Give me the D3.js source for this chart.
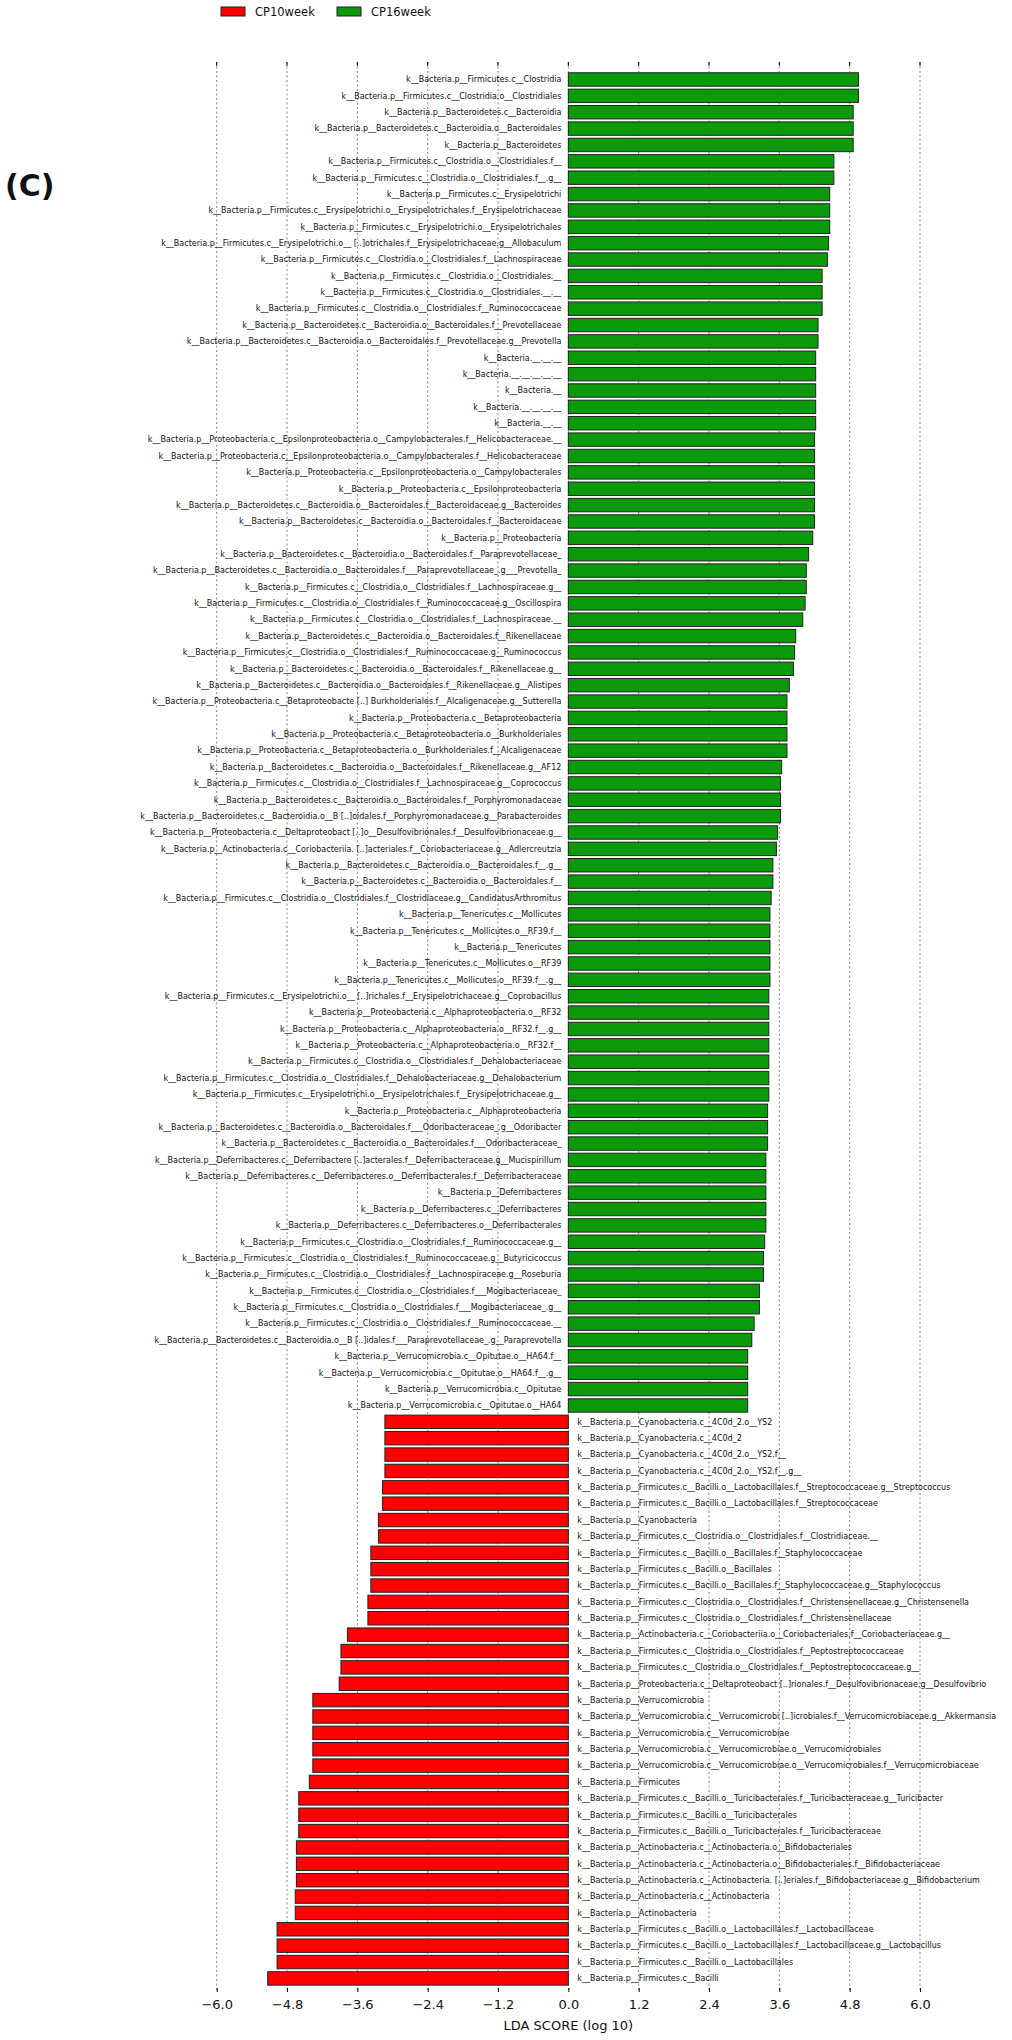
<!DOCTYPE html>
<html>
<head>
<meta charset="utf-8">
<script src="https://cdn.jsdelivr.net/npm/d3@7"></script>
<style>
  html, body { margin: 0; padding: 0; background: #fff; }
  svg { display: block; }
  text { font-family: "DejaVu Sans", sans-serif; fill: #111; }
</style>
</head>
<body>
<svg id="chart" width="1012" height="2040"></svg>
<script>
// ---- data ----
const greenLabels = [
  "k__Bacteria.p__Firmicutes.c__Clostridia",
  "k__Bacteria.p__Firmicutes.c__Clostridia.o__Clostridiales",
  "k__Bacteria.p__Bacteroidetes.c__Bacteroidia",
  "k__Bacteria.p__Bacteroidetes.c__Bacteroidia.o__Bacteroidales",
  "k__Bacteria.p__Bacteroidetes",
  "k__Bacteria.p__Firmicutes.c__Clostridia.o__Clostridiales.f__",
  "k__Bacteria.p__Firmicutes.c__Clostridia.o__Clostridiales.f__.g__",
  "k__Bacteria.p__Firmicutes.c__Erysipelotrichi",
  "k__Bacteria.p__Firmicutes.c__Erysipelotrichi.o__Erysipelotrichales.f__Erysipelotrichaceae",
  "k__Bacteria.p__Firmicutes.c__Erysipelotrichi.o__Erysipelotrichales",
  "k__Bacteria.p__Firmicutes.c__Erysipelotrichi.o__ [..]otrichales.f__Erysipelotrichaceae.g__Allobaculum",
  "k__Bacteria.p__Firmicutes.c__Clostridia.o__Clostridiales.f__Lachnospiraceae",
  "k__Bacteria.p__Firmicutes.c__Clostridia.o__Clostridiales.__",
  "k__Bacteria.p__Firmicutes.c__Clostridia.o__Clostridiales.__.__",
  "k__Bacteria.p__Firmicutes.c__Clostridia.o__Clostridiales.f__Ruminococcaceae",
  "k__Bacteria.p__Bacteroidetes.c__Bacteroidia.o__Bacteroidales.f__Prevotellaceae",
  "k__Bacteria.p__Bacteroidetes.c__Bacteroidia.o__Bacteroidales.f__Prevotellaceae.g__Prevotella",
  "k__Bacteria.__.__.__",
  "k__Bacteria.__.__.__.__.__",
  "k__Bacteria.__",
  "k__Bacteria.__.__.__.__",
  "k__Bacteria.__.__",
  "k__Bacteria.p__Proteobacteria.c__Epsilonproteobacteria.o__Campylobacterales.f__Helicobacteraceae.__",
  "k__Bacteria.p__Proteobacteria.c__Epsilonproteobacteria.o__Campylobacterales.f__Helicobacteraceae",
  "k__Bacteria.p__Proteobacteria.c__Epsilonproteobacteria.o__Campylobacterales",
  "k__Bacteria.p__Proteobacteria.c__Epsilonproteobacteria",
  "k__Bacteria.p__Bacteroidetes.c__Bacteroidia.o__Bacteroidales.f__Bacteroidaceae.g__Bacteroides",
  "k__Bacteria.p__Bacteroidetes.c__Bacteroidia.o__Bacteroidales.f__Bacteroidaceae",
  "k__Bacteria.p__Proteobacteria",
  "k__Bacteria.p__Bacteroidetes.c__Bacteroidia.o__Bacteroidales.f__Paraprevotellaceae_",
  "k__Bacteria.p__Bacteroidetes.c__Bacteroidia.o__Bacteroidales.f___Paraprevotellaceae_.g___Prevotella_",
  "k__Bacteria.p__Firmicutes.c__Clostridia.o__Clostridiales.f__Lachnospiraceae.g__",
  "k__Bacteria.p__Firmicutes.c__Clostridia.o__Clostridiales.f__Ruminococcaceae.g__Oscillospira",
  "k__Bacteria.p__Firmicutes.c__Clostridia.o__Clostridiales.f__Lachnospiraceae.__",
  "k__Bacteria.p__Bacteroidetes.c__Bacteroidia.o__Bacteroidales.f__Rikenellaceae",
  "k__Bacteria.p__Firmicutes.c__Clostridia.o__Clostridiales.f__Ruminococcaceae.g__Ruminococcus",
  "k__Bacteria.p__Bacteroidetes.c__Bacteroidia.o__Bacteroidales.f__Rikenellaceae.g__",
  "k__Bacteria.p__Bacteroidetes.c__Bacteroidia.o__Bacteroidales.f__Rikenellaceae.g__Alistipes",
  "k__Bacteria.p__Proteobacteria.c__Betaproteobacte [..] Burkholderiales.f__Alcaligenaceae.g__Sutterella",
  "k__Bacteria.p__Proteobacteria.c__Betaproteobacteria",
  "k__Bacteria.p__Proteobacteria.c__Betaproteobacteria.o__Burkholderiales",
  "k__Bacteria.p__Proteobacteria.c__Betaproteobacteria.o__Burkholderiales.f__Alcaligenaceae",
  "k__Bacteria.p__Bacteroidetes.c__Bacteroidia.o__Bacteroidales.f__Rikenellaceae.g__AF12",
  "k__Bacteria.p__Firmicutes.c__Clostridia.o__Clostridiales.f__Lachnospiraceae.g__Coprococcus",
  "k__Bacteria.p__Bacteroidetes.c__Bacteroidia.o__Bacteroidales.f__Porphyromonadaceae",
  "k__Bacteria.p__Bacteroidetes.c__Bacteroidia.o__B [..]oidales.f__Porphyromonadaceae.g__Parabacteroides",
  "k__Bacteria.p__Proteobacteria.c__Deltaproteobact [..]o__Desulfovibrionales.f__Desulfovibrionaceae.g__",
  "k__Bacteria.p__Actinobacteria.c__Coriobacteriia. [..]acteriales.f__Coriobacteriaceae.g__Adlercreutzia",
  "k__Bacteria.p__Bacteroidetes.c__Bacteroidia.o__Bacteroidales.f__.g__",
  "k__Bacteria.p__Bacteroidetes.c__Bacteroidia.o__Bacteroidales.f__",
  "k__Bacteria.p__Firmicutes.c__Clostridia.o__Clostridiales.f__Clostridiaceae.g__CandidatusArthromitus",
  "k__Bacteria.p__Tenericutes.c__Mollicutes",
  "k__Bacteria.p__Tenericutes.c__Mollicutes.o__RF39.f__",
  "k__Bacteria.p__Tenericutes",
  "k__Bacteria.p__Tenericutes.c__Mollicutes.o__RF39",
  "k__Bacteria.p__Tenericutes.c__Mollicutes.o__RF39.f__.g__",
  "k__Bacteria.p__Firmicutes.c__Erysipelotrichi.o__ [..]richales.f__Erysipelotrichaceae.g__Coprobacillus",
  "k__Bacteria.p__Proteobacteria.c__Alphaproteobacteria.o__RF32",
  "k__Bacteria.p__Proteobacteria.c__Alphaproteobacteria.o__RF32.f__.g__",
  "k__Bacteria.p__Proteobacteria.c__Alphaproteobacteria.o__RF32.f__",
  "k__Bacteria.p__Firmicutes.c__Clostridia.o__Clostridiales.f__Dehalobacteriaceae",
  "k__Bacteria.p__Firmicutes.c__Clostridia.o__Clostridiales.f__Dehalobacteriaceae.g__Dehalobacterium",
  "k__Bacteria.p__Firmicutes.c__Erysipelotrichi.o__Erysipelotrichales.f__Erysipelotrichaceae.g__",
  "k__Bacteria.p__Proteobacteria.c__Alphaproteobacteria",
  "k__Bacteria.p__Bacteroidetes.c__Bacteroidia.o__Bacteroidales.f___Odoribacteraceae_.g__Odoribacter",
  "k__Bacteria.p__Bacteroidetes.c__Bacteroidia.o__Bacteroidales.f___Odoribacteraceae_",
  "k__Bacteria.p__Deferribacteres.c__Deferribactere [..]acterales.f__Deferribacteraceae.g__Mucispirillum",
  "k__Bacteria.p__Deferribacteres.c__Deferribacteres.o__Deferribacterales.f__Deferribacteraceae",
  "k__Bacteria.p__Deferribacteres",
  "k__Bacteria.p__Deferribacteres.c__Deferribacteres",
  "k__Bacteria.p__Deferribacteres.c__Deferribacteres.o__Deferribacterales",
  "k__Bacteria.p__Firmicutes.c__Clostridia.o__Clostridiales.f__Ruminococcaceae.g__",
  "k__Bacteria.p__Firmicutes.c__Clostridia.o__Clostridiales.f__Ruminococcaceae.g__Butyricicoccus",
  "k__Bacteria.p__Firmicutes.c__Clostridia.o__Clostridiales.f__Lachnospiraceae.g__Roseburia",
  "k__Bacteria.p__Firmicutes.c__Clostridia.o__Clostridiales.f___Mogibacteriaceae_",
  "k__Bacteria.p__Firmicutes.c__Clostridia.o__Clostridiales.f___Mogibacteriaceae_.g__",
  "k__Bacteria.p__Firmicutes.c__Clostridia.o__Clostridiales.f__Ruminococcaceae.__",
  "k__Bacteria.p__Bacteroidetes.c__Bacteroidia.o__B [..]idales.f___Paraprevotellaceae_.g__Paraprevotella",
  "k__Bacteria.p__Verrucomicrobia.c__Opitutae.o__HA64.f__",
  "k__Bacteria.p__Verrucomicrobia.c__Opitutae.o__HA64.f__.g__",
  "k__Bacteria.p__Verrucomicrobia.c__Opitutae",
  "k__Bacteria.p__Verrucomicrobia.c__Opitutae.o__HA64"
];
const greenValues = [
  4.95, 4.95, 4.86, 4.86, 4.86, 4.53, 4.53, 4.46, 4.46, 4.46,
  4.44, 4.42, 4.33, 4.33, 4.33, 4.26, 4.26, 4.22, 4.22, 4.22,
  4.22, 4.22, 4.20, 4.20, 4.20, 4.20, 4.20, 4.20, 4.17, 4.10,
  4.06, 4.06, 4.04, 4.00, 3.88, 3.86, 3.84, 3.77, 3.73, 3.73,
  3.73, 3.73, 3.64, 3.62, 3.62, 3.62, 3.57, 3.55, 3.49, 3.49,
  3.46, 3.44, 3.44, 3.44, 3.44, 3.44, 3.42, 3.42, 3.42, 3.42,
  3.42, 3.42, 3.42, 3.40, 3.40, 3.40, 3.37, 3.37, 3.37, 3.37,
  3.37, 3.35, 3.33, 3.33, 3.26, 3.26, 3.17, 3.13, 3.06, 3.06,
  3.06, 3.06
];
const redLabels = [
  "k__Bacteria.p__Cyanobacteria.c__4C0d_2.o__YS2",
  "k__Bacteria.p__Cyanobacteria.c__4C0d_2",
  "k__Bacteria.p__Cyanobacteria.c__4C0d_2.o__YS2.f__",
  "k__Bacteria.p__Cyanobacteria.c__4C0d_2.o__YS2.f__.g__",
  "k__Bacteria.p__Firmicutes.c__Bacilli.o__Lactobacillales.f__Streptococcaceae.g__Streptococcus",
  "k__Bacteria.p__Firmicutes.c__Bacilli.o__Lactobacillales.f__Streptococcaceae",
  "k__Bacteria.p__Cyanobacteria",
  "k__Bacteria.p__Firmicutes.c__Clostridia.o__Clostridiales.f__Clostridiaceae.__",
  "k__Bacteria.p__Firmicutes.c__Bacilli.o__Bacillales.f__Staphylococcaceae",
  "k__Bacteria.p__Firmicutes.c__Bacilli.o__Bacillales",
  "k__Bacteria.p__Firmicutes.c__Bacilli.o__Bacillales.f__Staphylococcaceae.g__Staphylococcus",
  "k__Bacteria.p__Firmicutes.c__Clostridia.o__Clostridiales.f__Christensenellaceae.g__Christensenella",
  "k__Bacteria.p__Firmicutes.c__Clostridia.o__Clostridiales.f__Christensenellaceae",
  "k__Bacteria.p__Actinobacteria.c__Coriobacteriia.o__Coriobacteriales.f__Coriobacteriaceae.g__",
  "k__Bacteria.p__Firmicutes.c__Clostridia.o__Clostridiales.f__Peptostreptococcaceae",
  "k__Bacteria.p__Firmicutes.c__Clostridia.o__Clostridiales.f__Peptostreptococcaceae.g__",
  "k__Bacteria.p__Proteobacteria.c__Deltaproteobact [..]rionales.f__Desulfovibrionaceae.g__Desulfovibrio",
  "k__Bacteria.p__Verrucomicrobia",
  "k__Bacteria.p__Verrucomicrobia.c__Verrucomicrobi [..]icrobiales.f__Verrucomicrobiaceae.g__Akkermansia",
  "k__Bacteria.p__Verrucomicrobia.c__Verrucomicrobiae",
  "k__Bacteria.p__Verrucomicrobia.c__Verrucomicrobiae.o__Verrucomicrobiales",
  "k__Bacteria.p__Verrucomicrobia.c__Verrucomicrobiae.o__Verrucomicrobiales.f__Verrucomicrobiaceae",
  "k__Bacteria.p__Firmicutes",
  "k__Bacteria.p__Firmicutes.c__Bacilli.o__Turicibacterales.f__Turicibacteraceae.g__Turicibacter",
  "k__Bacteria.p__Firmicutes.c__Bacilli.o__Turicibacterales",
  "k__Bacteria.p__Firmicutes.c__Bacilli.o__Turicibacterales.f__Turicibacteraceae",
  "k__Bacteria.p__Actinobacteria.c__Actinobacteria.o__Bifidobacteriales",
  "k__Bacteria.p__Actinobacteria.c__Actinobacteria.o__Bifidobacteriales.f__Bifidobacteriaceae",
  "k__Bacteria.p__Actinobacteria.c__Actinobacteria. [..]eriales.f__Bifidobacteriaceae.g__Bifidobacterium",
  "k__Bacteria.p__Actinobacteria.c__Actinobacteria",
  "k__Bacteria.p__Actinobacteria",
  "k__Bacteria.p__Firmicutes.c__Bacilli.o__Lactobacillales.f__Lactobacillaceae",
  "k__Bacteria.p__Firmicutes.c__Bacilli.o__Lactobacillales.f__Lactobacillaceae.g__Lactobacillus",
  "k__Bacteria.p__Firmicutes.c__Bacilli.o__Lactobacillales",
  "k__Bacteria.p__Firmicutes.c__Bacilli"
];
const redValues = [
  -3.13, -3.13, -3.13, -3.13, -3.17, -3.17, -3.24, -3.24, -3.37, -3.37,
  -3.37, -3.42, -3.42, -3.77, -3.88, -3.88, -3.91, -4.36, -4.36, -4.36,
  -4.36, -4.36, -4.42, -4.60, -4.60, -4.60, -4.64, -4.64, -4.64, -4.66,
  -4.66, -4.97, -4.97, -4.97, -5.13
];
const tickValues = [-6.0, -4.8, -3.6, -2.4, -1.2, 0.0, 1.2, 2.4, 3.6, 4.8, 6.0];
const legendItems = ["CP10week", "CP16week"];
const groupColors = { "CP10week": "#ff0000", "CP16week": "#0a9a0a" };

// ---- build rows ----
const rows = [];
greenLabels.forEach((l, i) => rows.push({ label: l, value: greenValues[i], group: "CP16week" }));
redLabels.forEach((l, i) => rows.push({ label: l, value: redValues[i], group: "CP10week" }));

const svg = d3.select("#chart");
const plotTop = 62, plotBottom = 1992;
const x = d3.scaleLinear().domain([-6, 6]).range([216.7, 920]);
const y = d3.scaleBand()
  .domain(rows.map((d, i) => i))
  .range([71.3, 1986.6])
  .paddingInner(0.18)
  .paddingOuter(0.09);

// grid lines
svg.append("g").selectAll("line").data(tickValues).join("line")
  .attr("x1", d => x(d)).attr("x2", d => x(d))
  .attr("y1", plotTop).attr("y2", plotBottom)
  .attr("stroke", "#777").attr("stroke-width", 0.9)
  .attr("stroke-dasharray", "2,2.5");

// top ticks
svg.append("g").selectAll("line").data(tickValues).join("line")
  .attr("x1", d => x(d)).attr("x2", d => x(d))
  .attr("y1", plotTop).attr("y2", plotTop + 4)
  .attr("stroke", "#000").attr("stroke-width", 1);

// bars
svg.append("g").selectAll("rect").data(rows).join("rect")
  .attr("x", d => x(Math.min(0, d.value)))
  .attr("width", d => Math.abs(x(d.value) - x(0)))
  .attr("y", (d, i) => y(i))
  .attr("height", y.bandwidth())
  .attr("fill", d => groupColors[d.group])
  .attr("stroke", "#222").attr("stroke-width", 1);

// labels
svg.append("g").selectAll("text").data(rows).join("text")
  .attr("x", d => d.value > 0 ? x(0) - 7 : x(0) + 9)
  .attr("y", (d, i) => y(i) + y.bandwidth() / 2)
  .attr("dy", "0.35em")
  .attr("text-anchor", d => d.value > 0 ? "end" : "start")
  .attr("font-size", 8)
  .text(d => d.label);

// bottom axis
const axis = d3.axisBottom(x).tickValues(tickValues)
  .tickFormat(d => d3.format(".1f")(d).replace("-", "\u2212"))
  .tickSizeInner(-4).tickSizeOuter(0).tickPadding(8);
const ax = svg.append("g").attr("transform", `translate(0,${plotBottom})`).call(axis);
ax.select(".domain").remove();
ax.selectAll(".tick line").attr("stroke", "#000");
ax.selectAll(".tick text").attr("font-size", 13).attr("font-family", "DejaVu Sans").attr("fill", "#111");

svg.append("text")
  .attr("x", x(0)).attr("y", 2030)
  .attr("text-anchor", "middle")
  .attr("font-size", 13)
  .text("LDA SCORE (log 10)");

// legend
const legend = svg.append("g");
const legendX = [221, 337];
legendItems.forEach((name, i) => {
  legend.append("rect")
    .attr("x", legendX[i]).attr("y", 7).attr("width", 24).attr("height", 9)
    .attr("fill", groupColors[name]).attr("stroke", "#222").attr("stroke-width", 1);
  legend.append("text")
    .attr("x", legendX[i] + 34).attr("y", 16)
    .attr("font-size", 11.5)
    .text(name);
});

// panel letter
svg.append("text")
  .attr("x", 5).attr("y", 196)
  .attr("font-family", "Liberation Sans, Arial, sans-serif")
  .attr("font-weight", "bold")
  .attr("font-size", 30)
  .text("(C)");
</script>
</body>
</html>
